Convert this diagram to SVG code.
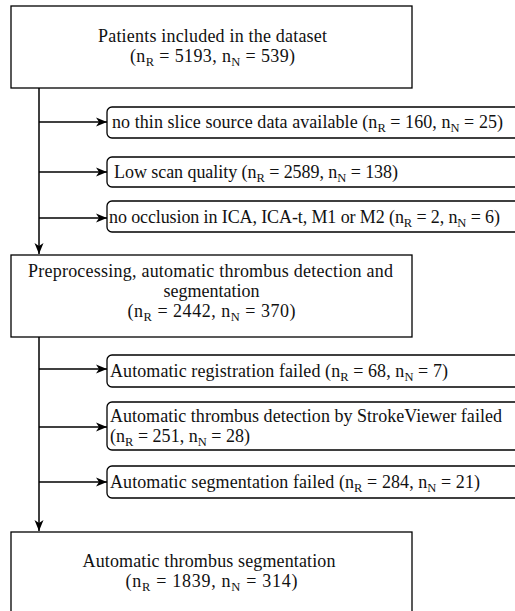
<svg xmlns="http://www.w3.org/2000/svg" width="515" height="611" viewBox="0 0 515 611">
<style>
.box{fill:#fff;stroke:#000;stroke-width:1.3}
.ex{fill:#fff;stroke:#000;stroke-width:1.3}
.t{font-family:"Liberation Serif","Times New Roman",serif;font-size:18px;fill:#111}
.c{text-anchor:middle}
.s{font-size:12.5px}
.ln{fill:none;stroke:#000;stroke-width:1.5}
</style>
<defs>
<marker id="ah" markerUnits="userSpaceOnUse" markerWidth="12" markerHeight="10" refX="11" refY="5" orient="auto">
<path d="M0,0.5 L11,5 L0,9.5 L3,5 Z" fill="#000"/>
</marker>
</defs>
<rect width="515" height="611" fill="#fff"/>
<g id="connectors">
<path class="ln" d="M39,88 V254" marker-end="url(#ah)"/>
<path class="ln" d="M39,122 H107" marker-end="url(#ah)"/>
<path class="ln" d="M39,172 H107" marker-end="url(#ah)"/>
<path class="ln" d="M39,218 H107" marker-end="url(#ah)"/>
<path class="ln" d="M39,337 V531" marker-end="url(#ah)"/>
<path class="ln" d="M39,369 H107" marker-end="url(#ah)"/>
<path class="ln" d="M39,427 H107" marker-end="url(#ah)"/>
<path class="ln" d="M39,482 H107" marker-end="url(#ah)"/>
</g>
<g id="n-patients">
<rect class="box" x="11" y="6" width="401" height="82"/>
<text class="t c" x="212.5" y="42" textLength="229">Patients included in the dataset</text>
<text class="t c" x="212.5" y="61.5" textLength="165">(n<tspan class="s" dy="4">R</tspan><tspan dy="-4"> = 5193, n</tspan><tspan class="s" dy="4">N</tspan><tspan dy="-4"> = 539)</tspan></text>
</g>
<g id="ex-thin">
<rect class="ex" x="107" y="107" width="430" height="31" rx="5"/>
<text class="t" x="112" y="128" textLength="391">no thin slice source data available (n<tspan class="s" dy="4">R</tspan><tspan dy="-4"> = 160, n</tspan><tspan class="s" dy="4">N</tspan><tspan dy="-4"> = 25)</tspan></text>
</g>
<g id="ex-quality">
<rect class="ex" x="107" y="157" width="430" height="30" rx="5"/>
<text class="t" x="114" y="177.5" textLength="284">Low scan quality (n<tspan class="s" dy="4">R</tspan><tspan dy="-4"> = 2589, n</tspan><tspan class="s" dy="4">N</tspan><tspan dy="-4"> = 138)</tspan></text>
</g>
<g id="ex-occlusion">
<rect class="ex" x="107" y="201" width="430" height="31" rx="5"/>
<text class="t" x="109" y="222.5" textLength="391">no occlusion in ICA, ICA-t, M1 or M2 (n<tspan class="s" dy="4">R</tspan><tspan dy="-4"> = 2, n</tspan><tspan class="s" dy="4">N</tspan><tspan dy="-4"> = 6)</tspan></text>
</g>
<g id="n-preprocessing">
<rect class="box" x="11" y="255" width="401" height="82"/>
<text class="t c" x="210.5" y="277" textLength="365">Preprocessing, automatic thrombus detection and</text>
<text class="t c" x="211.5" y="297">segmentation</text>
<text class="t c" x="211.5" y="317" textLength="168">(n<tspan class="s" dy="4">R</tspan><tspan dy="-4"> = 2442, n</tspan><tspan class="s" dy="4">N</tspan><tspan dy="-4"> = 370)</tspan></text>
</g>
<g id="ex-registration">
<rect class="ex" x="107" y="355" width="430" height="32" rx="5"/>
<text class="t" x="110" y="376.5" textLength="338">Automatic registration failed (n<tspan class="s" dy="4">R</tspan><tspan dy="-4"> = 68, n</tspan><tspan class="s" dy="4">N</tspan><tspan dy="-4"> = 7)</tspan></text>
</g>
<g id="ex-detection">
<rect class="ex" x="107" y="402" width="430" height="48" rx="5"/>
<text class="t" x="110" y="421.5" textLength="392">Automatic thrombus detection by StrokeViewer failed</text>
<text class="t" x="110" y="441.5" textLength="140">(n<tspan class="s" dy="4">R</tspan><tspan dy="-4"> = 251, n</tspan><tspan class="s" dy="4">N</tspan><tspan dy="-4"> = 28)</tspan></text>
</g>
<g id="ex-segmentation">
<rect class="ex" x="107" y="466" width="430" height="32" rx="5"/>
<text class="t" x="110" y="487.5" textLength="370">Automatic segmentation failed (n<tspan class="s" dy="4">R</tspan><tspan dy="-4"> = 284, n</tspan><tspan class="s" dy="4">N</tspan><tspan dy="-4"> = 21)</tspan></text>
</g>
<g id="n-final">
<rect class="box" x="11" y="532" width="401" height="100"/>
<text class="t c" x="209" y="567" textLength="253">Automatic thrombus segmentation</text>
<text class="t c" x="211.5" y="587" textLength="172">(n<tspan class="s" dy="4">R</tspan><tspan dy="-4"> = 1839, n</tspan><tspan class="s" dy="4">N</tspan><tspan dy="-4"> = 314)</tspan></text>
</g>
</svg>
